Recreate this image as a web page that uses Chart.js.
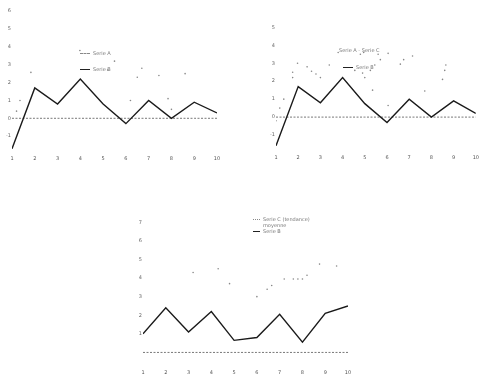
<!DOCTYPE html>
<html>
<head>
<meta charset="utf-8">
<script src="https://cdn.jsdelivr.net/npm/chart.js@4.4.1/dist/chart.umd.min.js"></script>
<style>
  body { margin: 0; background: #fff; width: 481px; height: 380px; overflow: hidden; position: relative; font-family: "DejaVu Sans", sans-serif; }
  canvas { position: absolute; }
  .legend { position: absolute; font-size: 5px; color: #777; line-height: 6px; }
  .legend .row { position: absolute; white-space: nowrap; }
  .legend .swatch { display: inline-block; width: 10px; height: 0; vertical-align: middle; margin-right: 3px; }
</style>
</head>
<body>
<canvas id="chartTL" width="230" height="165" style="left:0;top:0"></canvas>
<canvas id="chartTR" width="241" height="165" style="left:240px;top:0"></canvas>
<canvas id="chartB" width="250" height="200" style="left:120px;top:180px"></canvas>

<div class="legend" style="left:80px;top:50px">
  <div class="row" style="top:0"><span class="swatch" style="border-top:1px dashed #888"></span>Serie A</div>
  <div class="row" style="top:16px"><span class="swatch" style="border-top:1px solid #222"></span>Serie B</div>
</div>
<div class="legend" style="left:339px;top:47px">
  <div class="row" style="top:0;left:0">Serie A - Serie C</div>
  <div class="row" style="top:17px;left:4px"><span class="swatch" style="border-top:1px solid #222"></span>Serie B</div>
</div>
<div class="legend" style="left:253px;top:216px">
  <div class="row" style="top:0"><span class="swatch" style="width:7px;border-top:1px dotted #888"></span>Serie C (tendance)</div>
  <div class="row" style="top:6px;left:10px">moyenne</div>
  <div class="row" style="top:12px"><span class="swatch" style="width:7px;border-top:1px solid #222"></span>Serie B</div>
</div>

<script>
// shared x categories
const categories = ['1', '2', '3', '4', '5', '6', '7', '8', '9', '10'];

// top left chart
const tlSolid = [-1.7, 1.7, 0.8, 2.2, 0.8, -0.3, 1.0, 0.0, 0.9, 0.3];
const tlBase = [0, 0, 0, 0, 0, 0, 0, 0, 0, 0];
const tlDotsX = [0.2, 0.35, 0.83, 2.98, 4.2, 4.5, 5.2, 5.5, 5.7, 6.45, 6.85, 7.0, 7.6];
const tlDotsY = [0.4, 1.0, 2.57, 3.8, 2.7, 3.2, 1.0, 2.3, 2.8, 2.4, 1.1, 0.5, 2.5];
const tlTicks = [-1, 0, 1, 2, 3, 4, 5, 6];

// top right chart
const trSolid = [-1.6, 1.7, 0.8, 2.2, 0.75, -0.3, 1.0, 0.0, 0.9, 0.2];
const trBase = [0, 0, 0, 0, 0, 0, 0, 0, 0, 0];
const trDotsX = [0, 0.17, 0.35, 0.75, 0.75, 0.97, 1.4, 1.6, 1.8, 2.0, 2.4, 2.8, 3.55, 3.8, 3.9, 3.95, 4.0, 4.25, 4.35, 4.45, 4.6, 4.7, 5.05, 5.05, 5.6, 5.75, 6.15, 6.7, 7.5, 7.6, 7.65];
const trDotsY = [-0.2, 0.5, 1.0, 2.5, 2.2, 3.0, 2.8, 2.55, 2.4, 2.2, 2.9, 3.6, 2.6, 3.5, 2.45, 3.6, 2.2, 2.6, 1.5, 2.9, 3.5, 3.2, 3.55, 0.65, 2.95, 3.2, 3.4, 1.45, 2.1, 2.6, 2.9];
const trTicks = [-1, 0, 1, 2, 3, 4, 5, 6];

// bottom chart
const bSolid = [1.0, 2.4, 1.1, 2.2, 0.65, 0.8, 2.05, 0.55, 2.1, 2.5];
const bBase = [0, 0, 0, 0, 0, 0, 0, 0, 0, 0];
const bDotsX = [2.2, 3.3, 3.8, 5.0, 5.45, 5.65, 6.2, 6.6, 6.8, 7.0, 7.2, 7.75, 8.5];
const bDotsY = [4.3, 4.5, 3.7, 3.0, 3.4, 3.6, 3.95, 3.95, 3.95, 3.95, 4.15, 4.75, 4.65];
const bTicks = [1, 2, 3, 4, 5, 6, 7];

function toPoints(xs, ys) {
    return xs.map((x, i) => ({ x: x, y: ys[i] }));
}

function createChart(canvas, solid, base, dotsX, dotsY, tickList, opts) {
    const tickFont = { size: 5, family: 'DejaVu Sans' };
    new Chart(canvas, {
        type: 'line',
        data: {
            datasets: [{
                data: solid.map((v, i) => ({ x: i, y: v })),
                borderColor: '#1a1a1a',
                borderWidth: 1.4,
                pointRadius: 0,
                tension: 0
            }, {
                data: base.map((v, i) => ({ x: i, y: v })),
                borderColor: '#777',
                borderWidth: 1,
                borderDash: [2, 1.5],
                pointRadius: 0
            }, {
                data: toPoints(dotsX, dotsY),
                showLine: false,
                pointRadius: 0.8,
                pointBorderWidth: 0,
                pointBackgroundColor: '#888'
            }]
        },
        options: {
            responsive: false,
            devicePixelRatio: 1,
            animation: false,
            layout: { padding: opts.padding },
            plugins: { legend: { display: false }, tooltip: { enabled: false } },
            scales: {
                x: {
                    type: 'linear',
                    min: 0,
                    max: 9,
                    border: { display: false },
                    grid: { display: false, drawTicks: false },
                    afterFit: s => { s.height = opts.xHeight; },
                    ticks: {
                        stepSize: 1,
                        font: tickFont,
                        color: '#555',
                        padding: opts.xPad,
                        maxRotation: 0,
                        callback: v => categories[v]
                    }
                },
                y: {
                    min: opts.min,
                    max: opts.max,
                    border: { display: false },
                    grid: { display: false, drawTicks: false },
                    afterFit: s => { s.width = opts.yWidth; },
                    ticks: {
                        stepSize: 1,
                        font: tickFont,
                        color: '#666',
                        padding: 1,
                        callback: v => tickList.includes(v) ? String(v) : ''
                    }
                }
            }
        }
    });
}

createChart(document.getElementById('chartTL'), tlSolid, tlBase, tlDotsX, tlDotsY, tlTicks,
    { padding: { top: 0, right: 13 }, xHeight: 11, xPad: 2, yWidth: 12, min: -2, max: 6.4 });
createChart(document.getElementById('chartTR'), trSolid, trBase, trDotsX, trDotsY, trTicks,
    { padding: { top: 0, right: 1 }, xHeight: 12, xPad: 2, yWidth: 36, min: -2, max: 6.3 });
createChart(document.getElementById('chartB'), bSolid, bBase, bDotsX, bDotsY, bTicks,
    { padding: { top: 33, right: 22 }, xHeight: 22, xPad: 12, yWidth: 23, min: -0.3, max: 7.5 });
</script>
</body>
</html>
